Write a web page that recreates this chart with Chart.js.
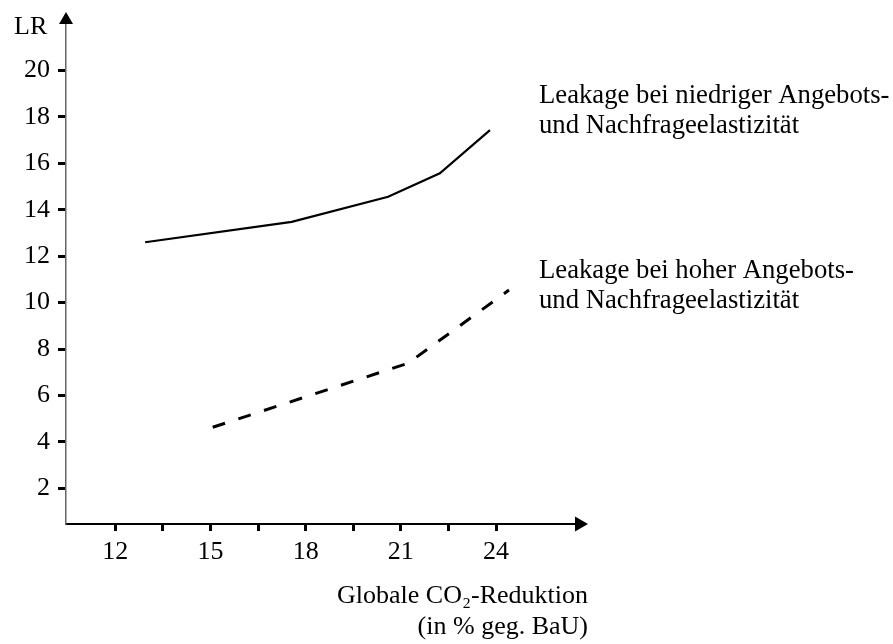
<!DOCTYPE html>
<html>
<head>
<meta charset="utf-8">
<script src="https://cdn.jsdelivr.net/npm/chart.js@4/dist/chart.umd.min.js"></script>
<style>
  body { margin: 0; background: #fff; }
  #wrap { width: 893px; height: 644px; }
</style>
</head>
<body>
<div id="wrap"><canvas id="leakageChart" width="893" height="644"></canvas></div>
<script>
// Werte
var niedrigX = [12.94, 17.56, 20.60, 22.23, 23.81];
var niedrigY = [12.60, 13.48, 14.56, 15.57, 17.43];
var hochX = [15.07, 21.23, 24.41];
var hochY = [4.63, 7.39, 10.54];

var xTicks = [12, 13.5, 15, 16.5, 18, 19.5, 21, 22.5, 24];
var yTicks = [2, 4, 6, 8, 10, 12, 14, 16, 18, 20];

var labelNiedrig = ['Leakage bei niedriger Angebots-', 'und Nachfrageelastizität'];
var labelHoch = ['Leakage bei hoher Angebots-', 'und Nachfrageelastizität'];
var yTitle = 'LR';
var xTitle = ['Globale CO\u2082-Reduktion', '(in % geg. BaU)'];

var FONT = '"Liberation Serif", "Times New Roman", serif';

function toPoints(xs, ys) {
    return xs.map(function(x, i) { return { x: x, y: ys[i] }; });
}

// Pfeile an den Achsen und Beschriftungen
var axisDeco = {
    id: 'axisDeco',
    afterDraw: function(chart) {
        var ctx = chart.ctx;
        var a = chart.chartArea;
        ctx.save();
        ctx.fillStyle = '#000';
        // Pfeil y-Achse
        ctx.beginPath();
        ctx.moveTo(a.left, a.top - 12);
        ctx.lineTo(a.left - 7, a.top);
        ctx.lineTo(a.left + 7, a.top);
        ctx.closePath();
        ctx.fill();
        // Pfeil x-Achse
        ctx.beginPath();
        ctx.moveTo(a.right + 13, a.bottom);
        ctx.lineTo(a.right, a.bottom - 7.5);
        ctx.lineTo(a.right, a.bottom + 7.5);
        ctx.closePath();
        ctx.fill();

        ctx.font = '26px ' + FONT;
        ctx.textBaseline = 'alphabetic';
        ctx.textAlign = 'left';
        ctx.fillText(yTitle, 14, 34);

        ctx.font = '26.7px ' + FONT;
        ctx.fillText(labelNiedrig[0], 539, 103);
        ctx.fillText(labelNiedrig[1], 539, 133);
        ctx.fillText(labelHoch[0], 539, 278);
        ctx.fillText(labelHoch[1], 539, 308);

        ctx.font = '26px ' + FONT;
        ctx.textAlign = 'right';
        ctx.fillText(xTitle[0], 588, 603);
        ctx.fillText(xTitle[1], 588, 634);
        ctx.restore();
    }
};

var ctx = document.getElementById('leakageChart').getContext('2d');

var leakageChart = new Chart(ctx, {
    type: 'line',
    data: {
        datasets: [{
            label: 'niedrige Elastizität',
            data: toPoints(niedrigX, niedrigY),
            borderColor: '#000',
            borderWidth: 2.2,
            pointRadius: 0,
            fill: false,
            tension: 0
        }, {
            label: 'hohe Elastizität',
            data: toPoints(hochX, hochY),
            borderColor: '#000',
            borderWidth: 3,
            borderDash: [13, 14],
            pointRadius: 0,
            fill: false,
            tension: 0
        }]
    },
    options: {
        responsive: false,
        animation: false,
        layout: { padding: { top: 24, right: 318, left: 0, bottom: 0 } },
        plugins: {
            legend: { display: false },
            tooltip: { enabled: false }
        },
        scales: {
            x: {
                type: 'linear',
                min: 10.446,
                max: 26.49,
                afterBuildTicks: function(scale) {
                    scale.ticks = xTicks.map(function(v) { return { value: v }; });
                },
                afterFit: function(scale) { scale.height = 120; },
                ticks: {
                    autoSkip: false,
                    maxRotation: 0,
                    padding: 6,
                    color: '#000',
                    font: { family: FONT, size: 26 },
                    callback: function(v) { return v % 3 === 0 ? String(v) : ''; }
                },
                grid: {
                    drawOnChartArea: false,
                    drawTicks: true,
                    tickLength: 7,
                    tickWidth: 3,
                    tickColor: '#000'
                },
                border: { display: true, color: '#000', width: 2 }
            },
            y: {
                type: 'linear',
                min: 0.465,
                max: 22.0,
                afterBuildTicks: function(scale) {
                    scale.ticks = yTicks.map(function(v) { return { value: v }; });
                },
                afterFit: function(scale) { scale.width = 66; },
                ticks: {
                    autoSkip: false,
                    padding: 8,
                    color: '#000',
                    font: { family: FONT, size: 26 }
                },
                grid: {
                    drawOnChartArea: false,
                    drawTicks: true,
                    tickLength: 8,
                    tickWidth: 3,
                    tickColor: '#000'
                },
                border: { display: true, color: '#666', width: 1.5 }
            }
        }
    },
    plugins: [axisDeco]
});
</script>
</body>
</html>
